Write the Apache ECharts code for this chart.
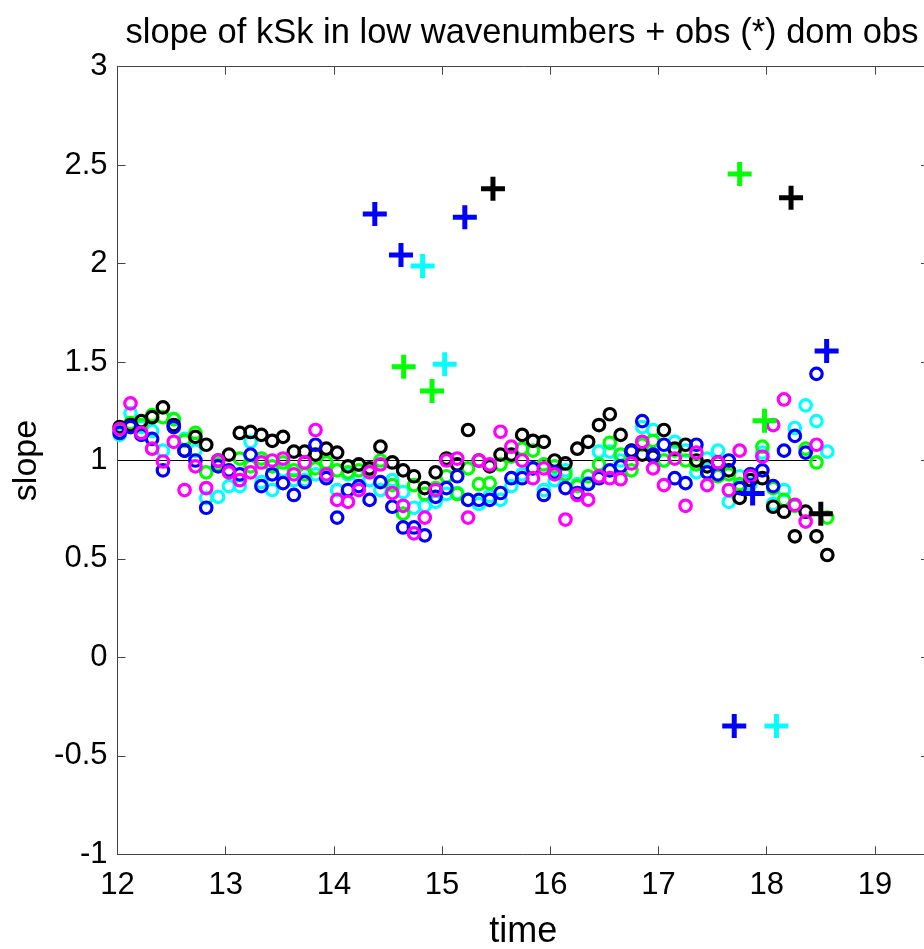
<!DOCTYPE html>
<html><head><meta charset="utf-8">
<script src="https://cdn.jsdelivr.net/npm/echarts@6/dist/echarts.min.js"></script>
<style>html,body{margin:0;padding:0;overflow:hidden;background:#fff}#c{width:940px;height:949px}</style>
</head><body><div id="c"></div>
<script>
// ---- data ----
const times = [12.02,12.12,12.22,12.32,12.42,12.52,12.62,12.72,12.82,12.93,
  13.03,13.13,13.23,13.33,13.43,13.53,13.63,13.73,13.83,13.93,
  14.03,14.13,14.23,14.33,14.43,14.54,14.64,14.74,14.84,14.94,
  15.04,15.14,15.24,15.34,15.44,15.54,15.64,15.74,15.84,15.94,
  16.04,16.14,16.25,16.35,16.45,16.55,16.65,16.75,16.85,16.95,
  17.05,17.15,17.25,17.35,17.45,17.55,17.65,17.75,17.85,17.96,
  18.06,18.16,18.26,18.36,18.46,18.56];

const slopeBlack = [1.17,1.18,1.20,1.22,1.27,1.18,1.05,1.12,1.08,1.00,
  1.03,1.14,1.145,1.13,1.10,1.12,1.045,1.045,1.03,1.06,
  1.04,0.97,0.98,0.96,1.07,0.99,0.95,0.92,0.86,0.94,
  1.01,0.98,1.155,1.00,0.97,1.03,1.03,1.13,1.10,1.095,
  1.00,0.985,1.06,1.095,1.18,1.235,1.13,1.05,1.03,1.02,
  1.155,1.06,1.08,1.00,0.97,0.99,0.95,0.81,0.90,0.91,
  0.765,0.74,0.615,0.74,0.615,0.52];

const slopeGreen = [1.15,1.19,1.18,1.23,1.22,1.21,1.10,1.14,0.94,0.98,
  0.94,1.01,0.97,1.01,0.97,0.99,0.95,0.93,0.96,0.99,
  0.95,0.94,0.95,0.95,1.00,0.875,0.73,0.875,0.83,0.86,
  0.92,0.83,0.96,0.88,0.885,0.98,1.02,1.06,1.05,0.98,
  0.97,0.93,0.87,0.92,0.98,1.09,1.03,0.95,1.08,1.10,
  1.00,1.05,1.00,0.98,0.94,0.92,0.93,0.88,0.93,1.07,
  0.86,0.80,0.77,1.06,0.99,0.71];

const slopeBlue = [1.14,1.17,1.13,1.11,0.95,1.17,1.05,1.00,0.76,0.97,
  0.95,0.93,1.03,0.87,0.93,0.885,0.825,0.89,1.08,0.91,
  0.71,0.85,0.87,0.80,0.89,0.765,0.66,0.66,0.62,0.815,
  0.86,0.92,0.80,0.80,0.80,0.835,0.91,0.91,0.96,0.825,
  0.94,0.86,0.835,0.88,0.91,0.95,0.97,1.045,1.20,1.03,
  1.08,0.91,0.885,1.08,0.94,0.93,1.00,0.86,0.93,0.95,
  0.87,1.05,1.125,1.04,1.44,null];

const slopeCyan = [1.13,1.24,1.17,1.15,1.05,1.21,1.11,1.05,0.81,0.815,
  0.87,0.87,1.095,0.89,0.85,0.95,0.90,0.90,0.93,0.92,
  0.85,0.93,0.92,0.90,0.85,0.90,0.84,0.76,0.77,0.79,
  0.83,0.835,0.80,0.78,0.82,0.80,0.87,0.93,0.96,0.85,
  0.90,0.95,0.88,0.885,1.045,1.045,1.00,1.05,1.17,1.155,
  1.00,1.095,1.05,0.94,1.01,1.05,0.79,0.92,0.88,1.04,
  0.78,0.85,1.165,1.28,1.20,1.045];

const slopeMagenta = [1.16,1.29,1.14,1.06,0.995,1.095,0.85,0.97,0.86,1.00,
  0.94,0.90,0.94,0.99,1.00,1.01,0.93,0.99,1.155,0.93,
  0.80,0.79,0.85,0.94,0.98,0.835,0.77,0.63,0.71,0.85,
  1.00,1.01,0.71,1.00,0.98,1.146,1.07,1.00,0.91,0.96,
  0.93,0.70,0.825,0.80,0.92,0.91,0.905,0.985,1.095,0.96,
  0.875,1.01,0.77,1.04,0.875,0.99,0.85,1.05,0.92,1.02,
  1.18,1.31,0.775,0.69,1.08,null];

// observation (+) markers: [time, slope]
const obsBlack = [[15.47,2.38],[18.225,2.335],[18.50,0.73]];
const obsGreen = [[14.645,1.476],[14.907,1.353],[17.75,2.455],[17.98,1.202]];
const obsBlue = [[14.378,2.252],[14.62,2.044],[15.21,2.235],[18.554,1.556],[17.87,0.833],[17.70,-0.348]];
const obsCyan = [[14.82,1.988],[15.024,1.489],[18.09,-0.348]];

const refLine = [[12,1],[18.46,1]];

const xMin = 12, xMax = 19.5, xStep = 1;
const yMin = -1, yMax = 3, yStep = 0.5;
const titleText = 'slope of kSk in low wavenumbers + obs (*) dom obs';
const xName = 'time', yName = 'slope';

// ---- chart ----
const FONT = '"Liberation Sans", Arial, Helvetica, sans-serif';
const AX = '#444';
const chart = echarts.init(document.getElementById('c'), null, {renderer: 'canvas'});

function circles(vals, color) {
  const d = [];
  times.forEach((t, i) => { if (vals[i] != null) d.push([t, vals[i]]); });
  return {
    type: 'scatter', data: d, symbol: 'circle', symbolSize: 11.5,
    itemStyle: {color: 'rgba(0,0,0,0)', borderColor: color, borderWidth: 3.2, opacity: 1},
    emphasis: {disabled: true}, silent: true, z: 3
  };
}
const PLUS = 'path://M9.5,0H14.5V9.5H24V14.5H14.5V24H9.5V14.5H0V9.5H9.5Z';
function pluses(d, color) {
  return {
    type: 'scatter', data: d, symbol: PLUS, symbolSize: 24,
    itemStyle: {color: color, opacity: 1}, emphasis: {disabled: true}, silent: true, z: 4
  };
}

const tickStyle = {show: true, inside: true, length: 8, lineStyle: {color: AX, width: 1}};
const lineStyle = {show: true, onZero: false, lineStyle: {color: AX, width: 1}};

chart.setOption({
  animation: false,
  backgroundColor: '#fff',
  grid: {left: 117.5, right: 11, top: 66.7, bottom: 94.7, containLabel: false, outerBoundsMode: 'none'},
  graphic: [{
    type: 'text', x: 522, y: 33,
    style: {text: titleText, font: '34.5px ' + FONT, fill: '#000', textAlign: 'center', textVerticalAlign: 'middle'}
  }],
  xAxis: [{
    type: 'value', min: xMin, max: xMax, interval: xStep, position: 'bottom',
    name: xName, nameLocation: 'middle', nameGap: 60,
    nameTextStyle: {fontFamily: FONT, fontSize: 36, color: '#000'},
    axisLine: lineStyle, axisTick: tickStyle, splitLine: {show: false},
    axisLabel: {show: true, fontFamily: FONT, fontSize: 31, color: '#000', margin: 16,
      showMaxLabel: false, formatter: v => Number.isInteger(v) ? String(v) : ''}
  }, {
    type: 'value', min: xMin, max: xMax, interval: xStep, position: 'top',
    axisLine: lineStyle, axisTick: tickStyle, splitLine: {show: false}, axisLabel: {show: false}
  }],
  yAxis: [{
    type: 'value', min: yMin, max: yMax, interval: yStep, position: 'left',
    name: yName, nameLocation: 'middle', nameGap: 66, nameRotate: 90,
    nameTextStyle: {fontFamily: FONT, fontSize: 34, color: '#000'},
    axisLine: lineStyle, axisTick: tickStyle, splitLine: {show: false},
    axisLabel: {show: true, fontFamily: FONT, fontSize: 31, color: '#000', margin: 10}
  }, {
    type: 'value', min: yMin, max: yMax, interval: yStep, position: 'right',
    axisLine: lineStyle, axisTick: tickStyle, splitLine: {show: false}, axisLabel: {show: false}
  }],
  series: [
    {type: 'line', data: refLine, symbol: 'none', lineStyle: {color: '#000', width: 1}, silent: true, z: 2},
    circles(slopeCyan, '#00ffff'),
    circles(slopeGreen, '#00ff00'),
    circles(slopeBlack, '#000000'),
    circles(slopeBlue, '#0000ff'),
    circles(slopeMagenta, '#ff00ff'),
    pluses(obsCyan, '#00ffff'),
    pluses(obsGreen, '#00ff00'),
    pluses(obsBlue, '#0000ff'),
    pluses(obsBlack, '#000000')
  ]
});
</script>
</body></html>
